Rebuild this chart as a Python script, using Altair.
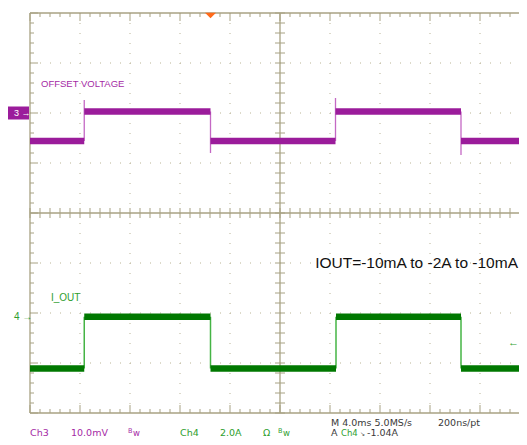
import altair as alt
import pandas as pd

# ---------------- scope settings ----------------
MS_PER_DIV = 4.0          # M 4.0ms
T_VIEW = 39.12            # part of the 10-division screen that is shown (ms)
CH3_MV_PER_DIV = 10.0     # Ch3 10.0mV
CH4_A_PER_DIV = 2.0       # Ch4 2.0A
CH3_OFFSET_DIV = 2.0      # ground marker "3" position (divisions from centre)
CH4_OFFSET_DIV = -2.07    # ground marker "4" position
TRIGGER_LEVEL_A = -1.04
TRIGGER_TIME_MS = 14.44

# ---------------- Ch3: offset voltage (mV) ----------------
ch3_seg_start = [0.0, 4.34, 14.44, 24.44, 34.48]
ch3_seg_end = [4.34, 14.44, 24.44, 34.48, 39.76]
ch3_seg_level = [-5.6, 0.3, -5.6, 0.3, -5.6]
ch3_edge_time = [4.34, 14.44, 24.44, 34.48]
ch3_edge_from = [-5.6, 0.3, -5.6, 0.3]
ch3_edge_peak = [2.6, -8.0, 3.0, -8.4]

# ---------------- Ch4: I_OUT (A) ----------------
ch4_seg_start = [0.0, 4.34, 14.44, 24.48, 34.48]
ch4_seg_end = [4.34, 14.44, 24.48, 34.48, 39.76]
ch4_seg_level = [-2.08, -0.01, -2.08, -0.01, -2.08]
ch4_edge_time = [4.34, 14.44, 24.48, 34.48]
ch4_edge_from = [-2.08, -0.01, -2.08, -0.01]
ch4_edge_to = [-0.01, -2.08, -0.01, -2.08]

# ---------------- colours ----------------
FRAME = "#a8a283"
DOTS = "#bab495"
PURPLE = "#9b1c9b"
PURPLE_EDGE = "#c468c4"
PURPLE_TXT = "#a52aa5"
GREEN = "#007800"
GREEN_EDGE = "#45b445"
GREEN_TXT = "#2e9e2e"
DARK_TXT = "#3a3a3a"
ORANGE = "#ff6a1a"
FONT = "Liberation Sans"
SCOPE_FONT = "DejaVu Sans"

W = 489
xs = alt.Scale(domain=[0, T_VIEW], nice=False, zero=False)
ys = alt.Scale(domain=[-4, 4], nice=False, zero=False)


def X(f="x"):
    return alt.X(f"{f}:Q", scale=xs, axis=None)


def Y(f="y"):
    return alt.Y(f"{f}:Q", scale=ys, axis=None)


# ---------------- graticule ----------------
div_t = [MS_PER_DIV * i for i in range(1, 10)]
div_y = [-3, -2, -1, 1, 2, 3]
minor_t = [round(0.8 * i, 2) for i in range(0, 49)]
minor_y = [round(-4 + 0.2 * i, 2) for i in range(0, 41)]

gv = pd.DataFrame({"x": [t for t in div_t if t != 20.0], "y": 4.0, "y2": -4.0})
gh = pd.DataFrame({"y": div_y, "x": 0.0, "x2": T_VIEW})

vt_rows = []
for t in minor_t:
    major = abs(t / MS_PER_DIV - round(t / MS_PER_DIV)) < 1e-6
    L = 0.16 if major else 0.08
    vt_rows.append({"x": t, "y": 4.0, "y2": 4.0 - L})
    vt_rows.append({"x": t, "y": -4.0, "y2": -4.0 + L})
    vt_rows.append({"x": t, "y": -0.1, "y2": 0.1})
vt = pd.DataFrame(vt_rows)

ht_rows = []
for v in minor_y:
    major = abs(v - round(v)) < 1e-6
    L = 0.64 if major else 0.32
    ht_rows.append({"y": v, "x": 0.0, "x2": L})
    ht_rows.append({"y": v, "x": 20.0 - 0.4, "x2": 20.0 + 0.4})
ht = pd.DataFrame(ht_rows)

frame_h = pd.DataFrame({"y": [4.0, -4.0, 0.0], "x": 0.0, "x2": T_VIEW})
frame_v = pd.DataFrame({"x": [0.0, 20.0], "y": 4.0, "y2": -4.0})

layers = []
layers.append(alt.Chart(gv).mark_rule(color=DOTS, strokeDash=[1, 9], strokeWidth=1).encode(x=X(), y=Y(), y2="y2:Q"))
layers.append(alt.Chart(gh).mark_rule(color=DOTS, strokeDash=[1, 9], strokeWidth=1).encode(x=X(), x2="x2:Q", y=Y()))
layers.append(alt.Chart(vt).mark_rule(color=FRAME, strokeWidth=1).encode(x=X(), y=Y(), y2="y2:Q"))
layers.append(alt.Chart(ht).mark_rule(color=FRAME, strokeWidth=1).encode(x=X(), x2="x2:Q", y=Y()))
layers.append(alt.Chart(frame_h).mark_rule(color=FRAME, strokeWidth=1.3).encode(x=X(), x2="x2:Q", y=Y()))
layers.append(alt.Chart(frame_v).mark_rule(color=FRAME, strokeWidth=1.3).encode(x=X(), y=Y(), y2="y2:Q"))

# ---------------- traces ----------------
ch3_segs = pd.DataFrame({
    "x": ch3_seg_start, "x2": ch3_seg_end,
    "y": [CH3_OFFSET_DIV + v / CH3_MV_PER_DIV for v in ch3_seg_level]})
ch3_edges = pd.DataFrame({
    "x": ch3_edge_time,
    "y": [CH3_OFFSET_DIV + v / CH3_MV_PER_DIV for v in ch3_edge_from],
    "y2": [CH3_OFFSET_DIV + v / CH3_MV_PER_DIV for v in ch3_edge_peak]})
ch4_segs = pd.DataFrame({
    "x": ch4_seg_start, "x2": ch4_seg_end,
    "y": [CH4_OFFSET_DIV + v / CH4_A_PER_DIV for v in ch4_seg_level]})
ch4_edges = pd.DataFrame({
    "x": ch4_edge_time,
    "y": [CH4_OFFSET_DIV + v / CH4_A_PER_DIV for v in ch4_edge_from],
    "y2": [CH4_OFFSET_DIV + v / CH4_A_PER_DIV for v in ch4_edge_to]})

layers.append(alt.Chart(ch3_edges).mark_rule(color=PURPLE_EDGE, strokeWidth=1.3).encode(x=X(), y=Y(), y2="y2:Q"))
layers.append(alt.Chart(ch3_segs).mark_rule(color=PURPLE, strokeWidth=6.5, strokeCap="butt", clip=True).encode(x=X(), x2="x2:Q", y=Y()))
layers.append(alt.Chart(ch4_edges).mark_rule(color=GREEN_EDGE, strokeWidth=1.5).encode(x=X(), y=Y(), y2="y2:Q"))
layers.append(alt.Chart(ch4_segs).mark_rule(color=GREEN, strokeWidth=6.5, strokeCap="butt", clip=True).encode(x=X(), x2="x2:Q", y=Y()))

# ---------------- markers ----------------
one = pd.DataFrame({"k": [0]})
layers.append(alt.Chart(one).mark_rect(color=PURPLE).encode(
    x=alt.value(-22), x2=alt.value(-1),
    y=alt.YDatum(CH3_OFFSET_DIV + 0.13, scale=ys, axis=None), y2=alt.Y2Datum(CH3_OFFSET_DIV - 0.13)))
layers.append(alt.Chart(one).mark_text(text="3 \u2192", color="white", font=FONT, fontSize=9, align="left", baseline="middle").encode(
    x=alt.value(-16), y=alt.YDatum(CH3_OFFSET_DIV, scale=ys, axis=None)))
layers.append(alt.Chart(one).mark_text(text="4 \u2192", color=GREEN_TXT, font=FONT, fontSize=10, align="left", baseline="middle").encode(
    x=alt.value(-16), y=alt.YDatum(CH4_OFFSET_DIV, scale=ys, axis=None)))
layers.append(alt.Chart(one).mark_text(text="\u2190", color=GREEN_TXT, font=FONT, fontSize=11, align="right", baseline="middle").encode(
    x=alt.value(W), y=alt.YDatum(CH4_OFFSET_DIV + TRIGGER_LEVEL_A / CH4_A_PER_DIV, scale=ys, axis=None)))
layers.append(alt.Chart(one).mark_point(shape="M-1,-0.5L1,-0.5L0,0.5Z", size=121, filled=True, color=ORANGE, opacity=1, strokeWidth=0).encode(
    x=alt.XDatum(TRIGGER_TIME_MS, scale=xs, axis=None), y=alt.value(2.5)))


# ---------------- texts ----------------
def label(txt, px, py, color, size=9.5, align="left", font=SCOPE_FONT):
    return alt.Chart(one).mark_text(text=txt, color=color, font=font, fontSize=size, align=align, baseline="alphabetic").encode(
        x=alt.value(px), y=alt.value(py))


ROW1 = 413
ROW2 = 423
layers.append(label("OFFSET VOLTAGE", 11, 74, PURPLE_TXT, 9.5, font=FONT))
layers.append(label("I_OUT", 21, 288, GREEN_TXT, 10, font=FONT))
layers.append(label("IOUT=-10mA to -2A to -10mA", W - 1, 255, "#111111", 15.5, align="right", font=FONT))

layers.append(label("M 4.0ms 5.0MS/s", 301, ROW1, DARK_TXT))
layers.append(label("200ns/pt", 408, ROW1, DARK_TXT))
layers.append(label("Ch3", 0, ROW2, PURPLE_TXT))
layers.append(label("10.0mV", 41, ROW2, PURPLE_TXT))
layers.append(label("B", 98, ROW2 - 3, PURPLE_TXT, 6.5))
layers.append(label("w", 103, ROW2, PURPLE_TXT, 8.5))
layers.append(label("Ch4", 150, ROW2, GREEN_TXT))
layers.append(label("2.0A", 190, ROW2, GREEN_TXT))
layers.append(label("\u03a9", 233, ROW2, GREEN_TXT))
layers.append(label("B", 248, ROW2 - 3, GREEN_TXT, 6.5))
layers.append(label("w", 253, ROW2, GREEN_TXT, 8.5))
layers.append(label("A", 301, ROW2, DARK_TXT))
layers.append(label("Ch4", 311, ROW2, GREEN_TXT, 8.5))
layers.append(label("\u2198", 330, ROW2, DARK_TXT, 6))
layers.append(label("-1.04A", 337, ROW2, DARK_TXT))

chart = alt.layer(*layers).properties(
    width=W, height=400,
    autosize=alt.AutoSizeParams(type="none"),
    padding={"left": 22, "top": 5, "right": 0, "bottom": 24},
    background="white",
).configure_view(stroke=None)

chart.save("out.html", embed_options={"renderer": "svg", "actions": False})
